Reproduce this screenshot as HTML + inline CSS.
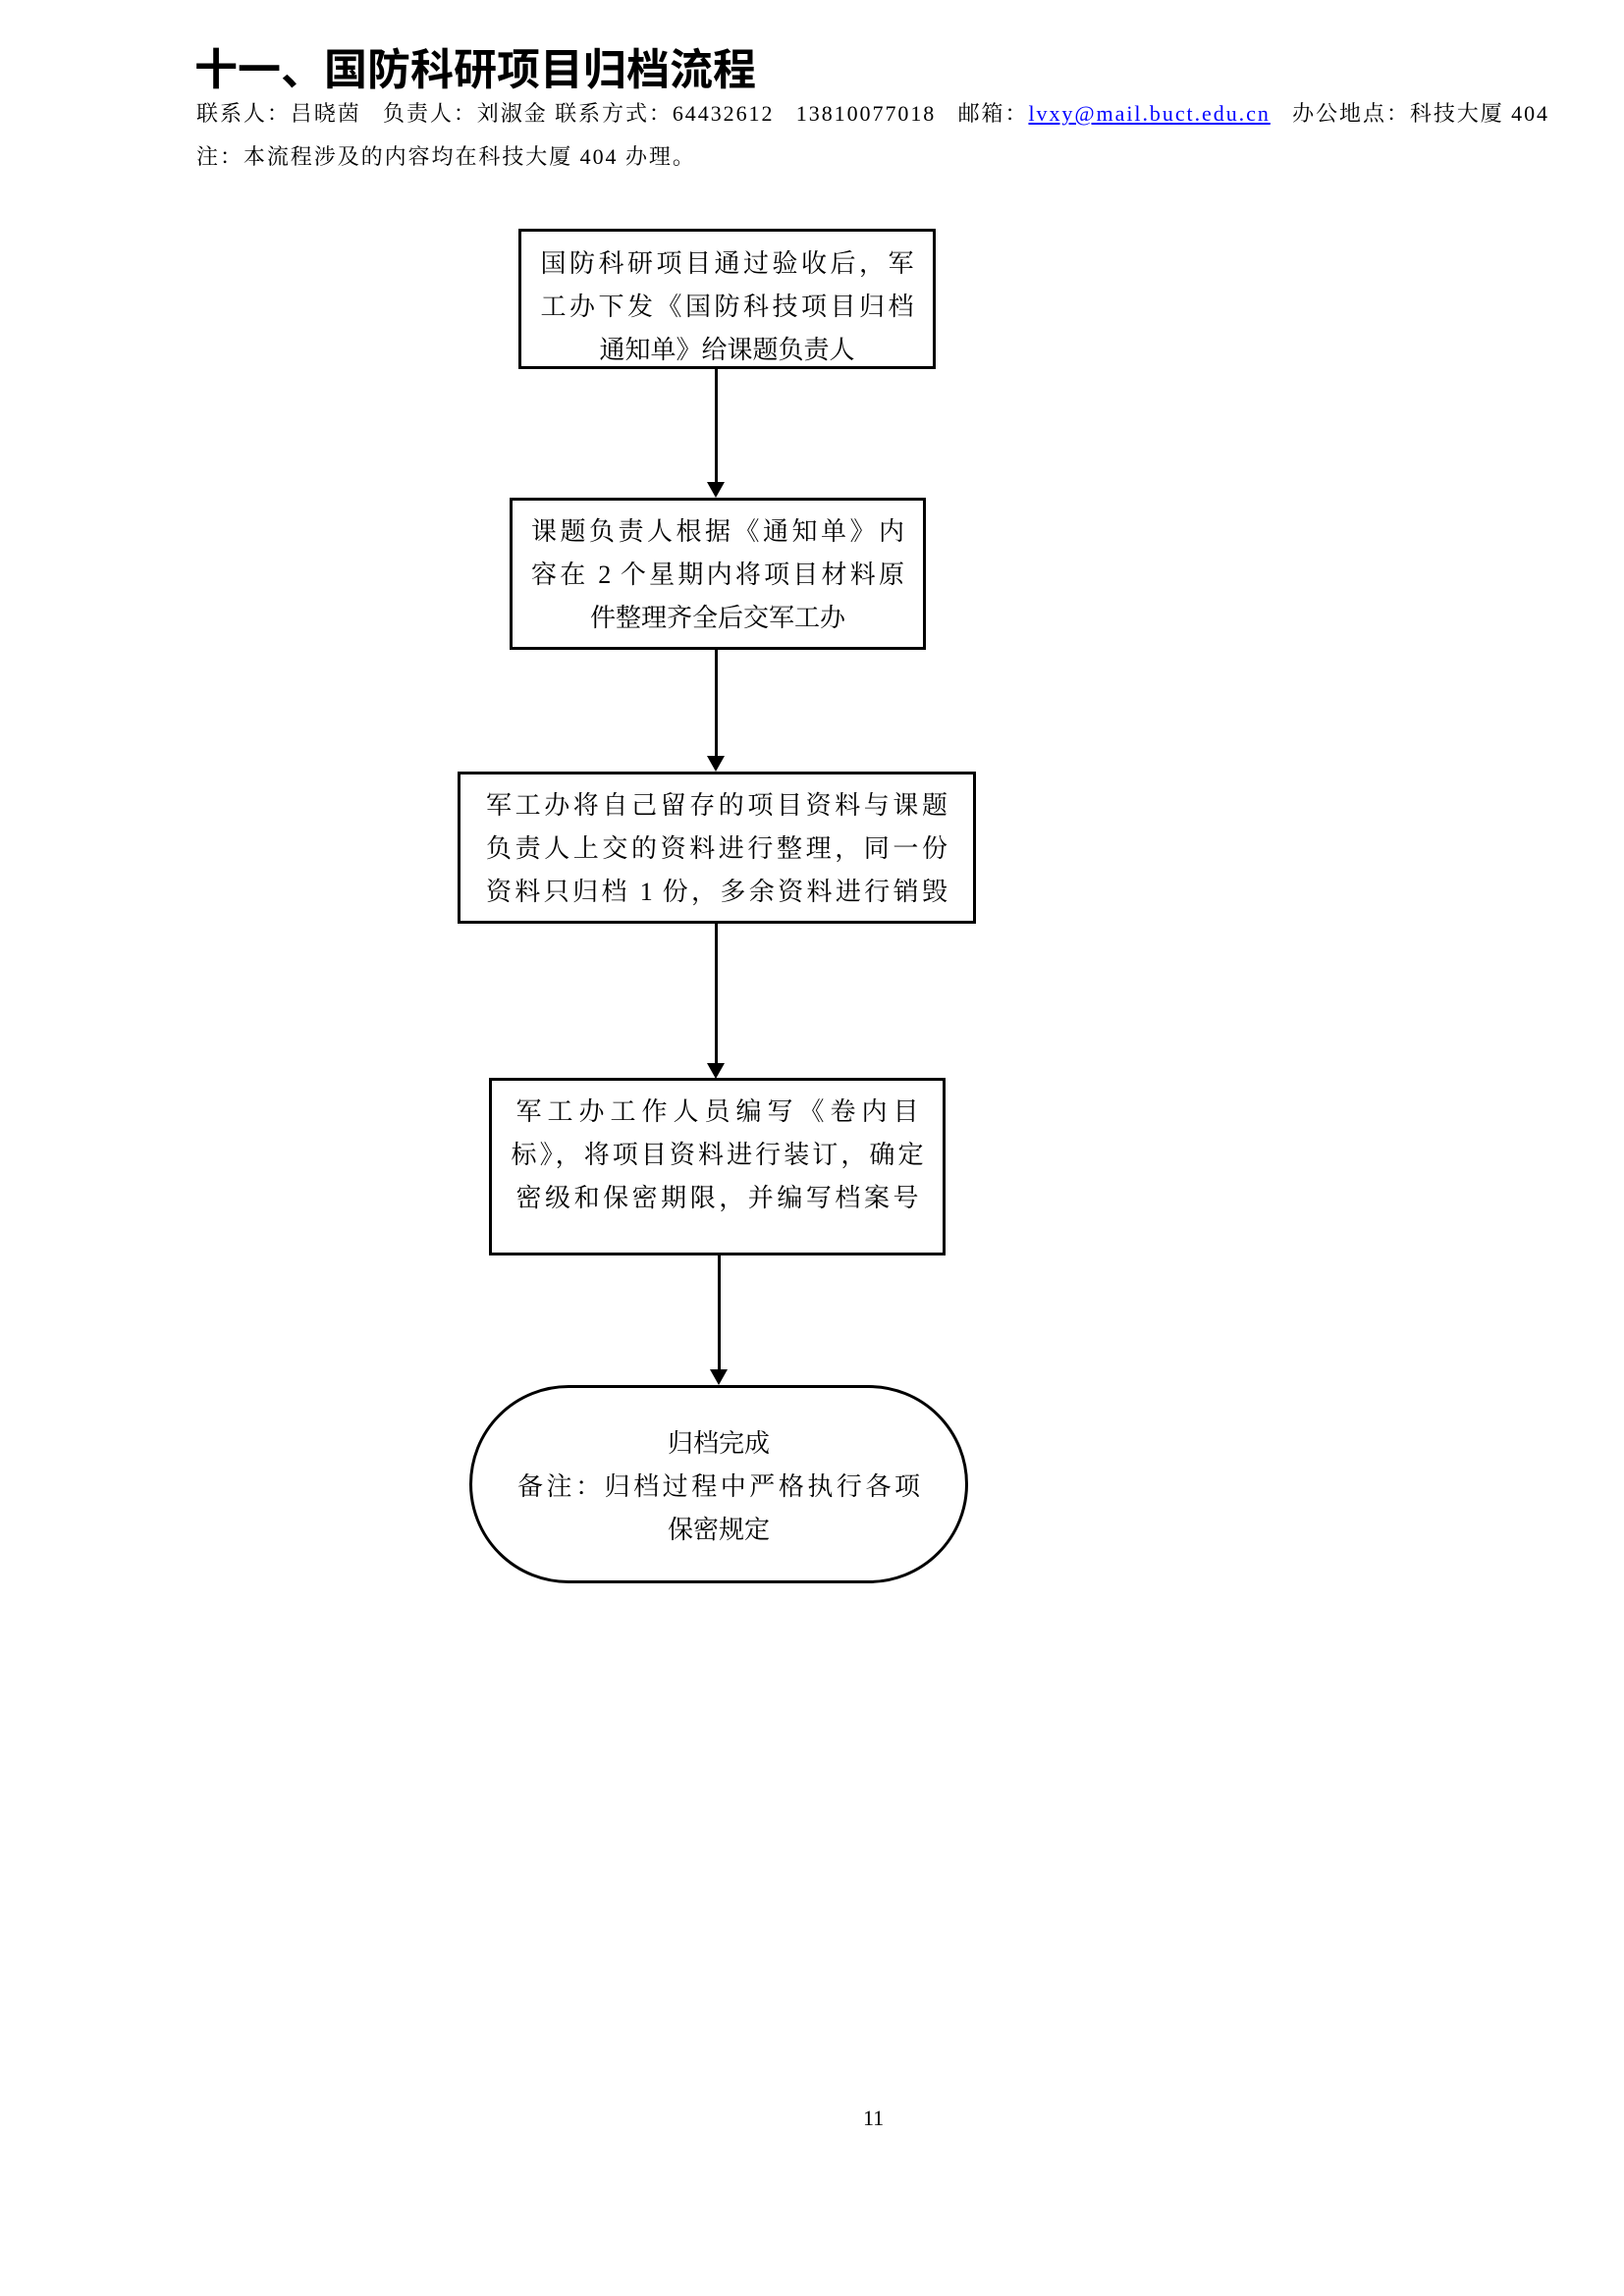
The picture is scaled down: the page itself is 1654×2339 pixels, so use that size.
<!DOCTYPE html>
<html><head><meta charset="utf-8"><style>
body{margin:0;width:1654px;height:2339px;background:#fff;position:relative;font-family:"Liberation Serif","Noto Serif CJK SC",serif;color:#000}
.a{position:absolute;white-space:nowrap}
.box{position:absolute;border:3px solid #000;box-sizing:border-box;background:#fff}
.t{position:absolute;left:0;right:0;text-align:center;font-size:26px;line-height:44px}
.t div{text-align:justify;text-align-last:justify;margin:0 auto}
.v{position:absolute;left:733px;width:3px;background:#000}
.h{position:absolute;width:0;height:0;border-left:9px solid transparent;border-right:9px solid transparent;border-top:16px solid #000}
#f{position:absolute;left:-5px;top:-2px;width:1654px;height:2339px}
</style></head><body>
<div class="a" style="left:198px;top:42px;font-size:44px;font-weight:bold;font-family:'Liberation Sans','Noto Sans CJK SC',sans-serif;line-height:60px">十一、国防科研项目归档流程</div>
<div class="a" style="left:200px;top:101px;font-size:22px;line-height:30px;letter-spacing:1.95px">联系人：吕晓茵&nbsp;&nbsp;&nbsp;负责人：刘淑金&nbsp;联系方式：64432612&nbsp;&nbsp;&nbsp;13810077018&nbsp;&nbsp;&nbsp;邮箱：<span style="color:#00f;text-decoration:underline">lvxy@mail.buct.edu.cn</span>&nbsp;&nbsp;&nbsp;办公地点：科技大厦 404</div>
<div class="a" style="left:200px;top:145px;font-size:22px;line-height:30px;letter-spacing:1.95px">注：本流程涉及的内容均在科技大厦 404 办理。</div>
<div id="f">
<div class="box" style="left:533px;top:235px;width:425px;height:143px"><div class="t" style="top:11px"><div style="width:380px">国防科研项目通过验收后，军</div><div style="width:380px">工办下发《国防科技项目归档</div><div style="text-align:center;text-align-last:center">通知单》给课题负责人</div></div></div>
<div class="v" style="top:378px;height:115px"></div><div class="h" style="left:725px;top:493px"></div>

<div class="box" style="left:524px;top:509px;width:424px;height:155px"><div class="t" style="top:10px"><div style="width:380px">课题负责人根据《通知单》内</div><div style="width:380px">容在 2 个星期内将项目材料原</div><div style="text-align:center;text-align-last:center">件整理齐全后交军工办</div></div></div>
<div class="v" style="top:664px;height:108px"></div><div class="h" style="left:725px;top:772px"></div>

<div class="box" style="left:471px;top:788px;width:528px;height:155px"><div class="t" style="top:10px"><div style="width:470px">军工办将自己留存的项目资料与课题</div><div style="width:470px">负责人上交的资料进行整理，同一份</div><div style="width:470px">资料只归档 1 份，多余资料进行销毁</div></div></div>
<div class="v" style="top:943px;height:142px"></div><div class="h" style="left:725px;top:1085px"></div>

<div class="box" style="left:503px;top:1100px;width:465px;height:181px"><div class="t" style="top:10px"><div style="width:410px">军工办工作人员编写《卷内目</div><div style="width:420px">标》，将项目资料进行装订，确定</div><div style="width:410px">密级和保密期限，并编写档案号</div></div></div>
<div class="v" style="top:1281px;left:736px;height:116px"></div><div class="h" style="left:728px;top:1397px"></div>

<div class="box" style="left:483px;top:1413px;width:508px;height:202px;border-radius:101px/101px"><div class="t" style="top:35px"><div style="text-align:center;text-align-last:center">归档完成</div><div style="width:410px">备注：归档过程中严格执行各项</div><div style="text-align:center;text-align-last:center">保密规定</div></div></div>
</div>
<div class="a" style="left:879px;top:2145px;font-size:22px">11</div>
</body></html>
